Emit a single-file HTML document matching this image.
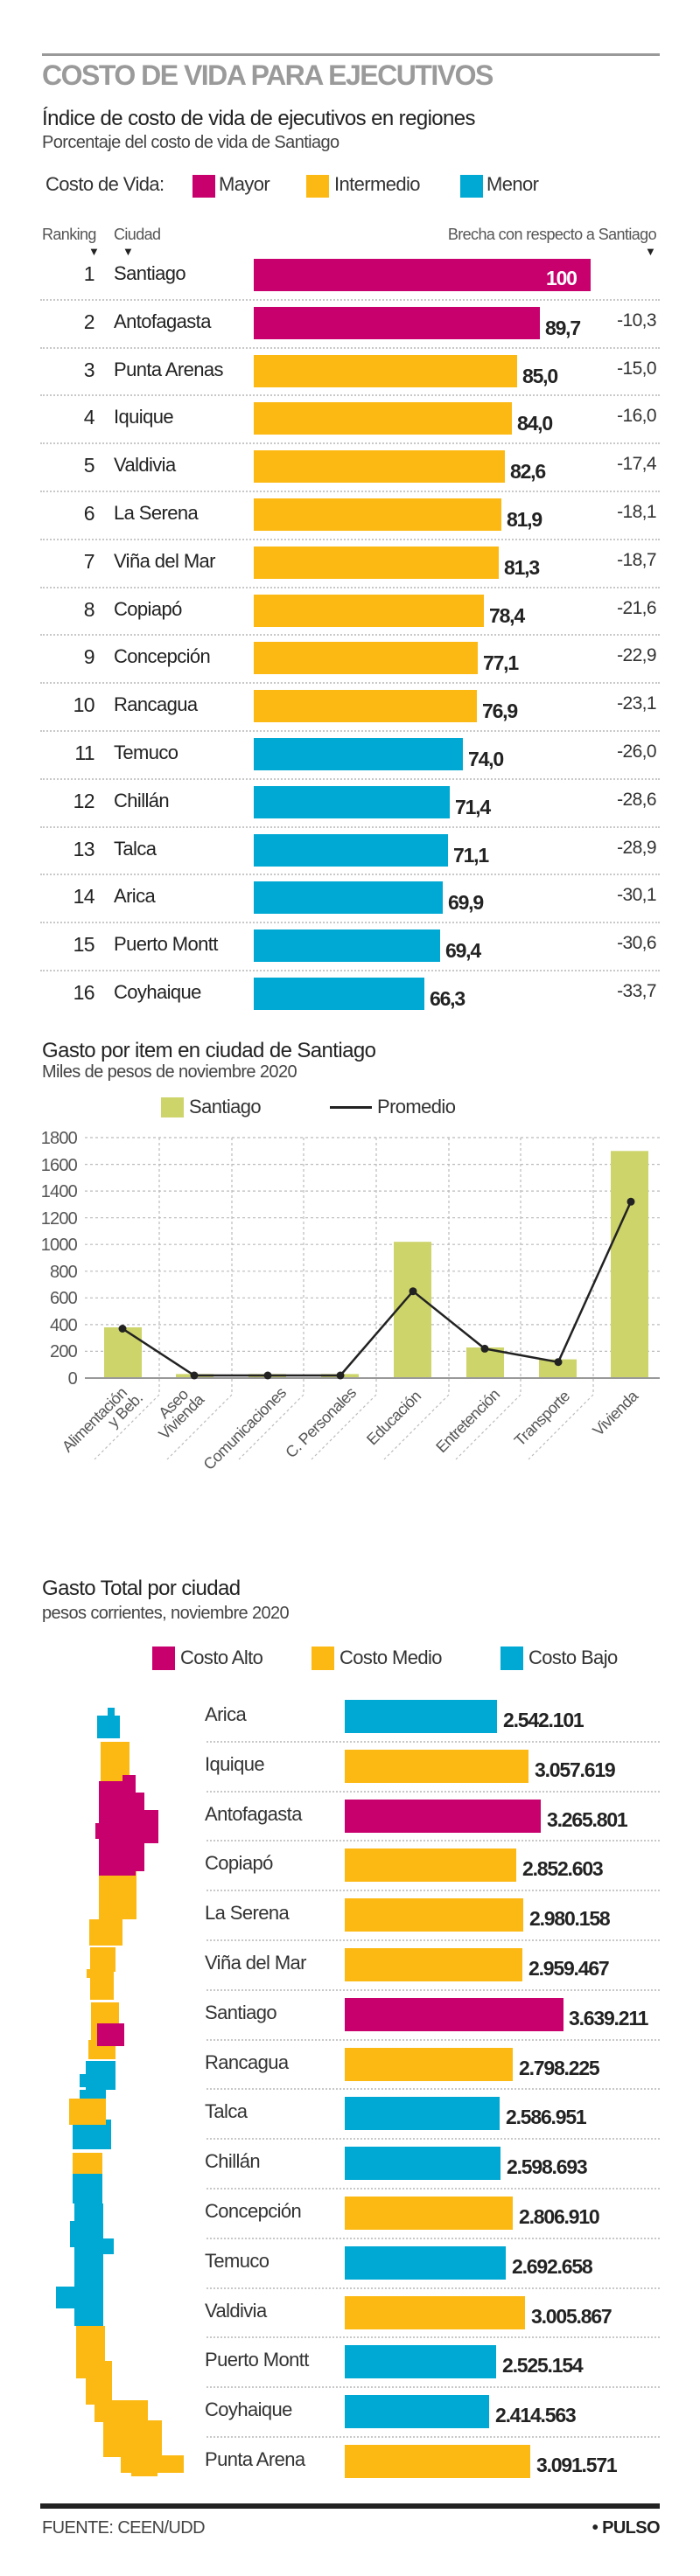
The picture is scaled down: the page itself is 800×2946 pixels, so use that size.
<!DOCTYPE html>
<html><head><meta charset="utf-8"><style>
*{margin:0;padding:0;box-sizing:border-box}
body{width:800px;height:2946px;background:#fff;position:relative;font-family:"Liberation Sans Narrow","Liberation Sans",sans-serif;color:#222;overflow:hidden;letter-spacing:-0.6px}
.a{position:absolute;white-space:nowrap}
.bar{position:absolute}
.m{background:#c8006e}.y{background:#fdb913}.b{background:#00a9d4}
.dot{position:absolute;height:0;border-top:2px dotted #c8c8c8}
.rk{position:absolute;width:60px;text-align:right;font-size:23px;left:48px}
.ct{position:absolute;left:130px;font-size:22px}
.v{position:absolute;font-size:23px;font-weight:bold;color:#222;letter-spacing:-1.2px}
.g{position:absolute;right:50px;font-size:21px;color:#333}
.c2{position:absolute;left:234px;font-size:22px;color:#333}
</style></head><body>
<div class="a" style="left:48px;top:61px;width:706px;border-top:3px solid #999"></div>
<div class="a" style="left:48px;top:68px;font-size:32px;font-weight:bold;color:#9a9a9a;letter-spacing:-1.5px">COSTO DE VIDA PARA EJECUTIVOS</div>
<div class="a" style="left:48px;top:122px;font-size:24px;color:#222">Índice de costo de vida de ejecutivos en regiones</div>
<div class="a" style="left:48px;top:152px;font-size:20px;color:#444">Porcentaje del costo de vida de Santiago</div>
<div class="a" style="left:52px;top:198px;font-size:22px;color:#333">Costo de Vida:</div>
<div class="bar m" style="left:220px;top:200px;width:26px;height:26px"></div><div class="a" style="left:250px;top:198px;font-size:22px;color:#333">Mayor</div>
<div class="bar y" style="left:350px;top:200px;width:26px;height:26px"></div><div class="a" style="left:382px;top:198px;font-size:22px;color:#333">Intermedio</div>
<div class="bar b" style="left:526px;top:200px;width:26px;height:26px"></div><div class="a" style="left:556px;top:198px;font-size:22px;color:#333">Menor</div>
<div class="a" style="left:48px;top:258px;font-size:18px;color:#555">Ranking</div>
<div class="a" style="left:130px;top:258px;font-size:18px;color:#555">Ciudad</div>
<div class="a" style="right:50px;top:258px;font-size:18px;color:#555">Brecha con respecto a Santiago</div>
<div class="a" style="left:101px;top:280px;font-size:13px">▼</div>
<div class="a" style="left:140px;top:280px;font-size:13px">▼</div>
<div class="a" style="left:737px;top:280px;font-size:13px">▼</div>

<div class="rk" style="top:300px">1</div><div class="ct" style="top:300px">Santiago</div><div class="bar m" style="left:290px;top:296px;width:385px;height:37px"></div><div class="v" style="left:624px;top:305px;color:#fff">100</div>
<div class="dot" style="left:46px;top:342px;width:708px"></div>
<div class="rk" style="top:355px">2</div><div class="ct" style="top:355px">Antofagasta</div><div class="bar m" style="left:290px;top:351px;width:327px;height:37px"></div><div class="v" style="left:623px;top:362px">89,7</div><div class="g" style="top:355px">-10,3</div>
<div class="dot" style="left:46px;top:397px;width:708px"></div>
<div class="rk" style="top:410px">3</div><div class="ct" style="top:410px">Punta Arenas</div><div class="bar y" style="left:290px;top:406px;width:301px;height:37px"></div><div class="v" style="left:597px;top:417px">85,0</div><div class="g" style="top:410px">-15,0</div>
<div class="dot" style="left:46px;top:451px;width:708px"></div>
<div class="rk" style="top:464px">4</div><div class="ct" style="top:464px">Iquique</div><div class="bar y" style="left:290px;top:460px;width:295px;height:37px"></div><div class="v" style="left:591px;top:471px">84,0</div><div class="g" style="top:464px">-16,0</div>
<div class="dot" style="left:46px;top:506px;width:708px"></div>
<div class="rk" style="top:519px">5</div><div class="ct" style="top:519px">Valdivia</div><div class="bar y" style="left:290px;top:515px;width:287px;height:37px"></div><div class="v" style="left:583px;top:526px">82,6</div><div class="g" style="top:519px">-17,4</div>
<div class="dot" style="left:46px;top:561px;width:708px"></div>
<div class="rk" style="top:574px">6</div><div class="ct" style="top:574px">La Serena</div><div class="bar y" style="left:290px;top:570px;width:283px;height:37px"></div><div class="v" style="left:579px;top:581px">81,9</div><div class="g" style="top:574px">-18,1</div>
<div class="dot" style="left:46px;top:616px;width:708px"></div>
<div class="rk" style="top:629px">7</div><div class="ct" style="top:629px">Viña del Mar</div><div class="bar y" style="left:290px;top:625px;width:280px;height:37px"></div><div class="v" style="left:576px;top:636px">81,3</div><div class="g" style="top:629px">-18,7</div>
<div class="dot" style="left:46px;top:671px;width:708px"></div>
<div class="rk" style="top:684px">8</div><div class="ct" style="top:684px">Copiapó</div><div class="bar y" style="left:290px;top:680px;width:263px;height:37px"></div><div class="v" style="left:559px;top:691px">78,4</div><div class="g" style="top:684px">-21,6</div>
<div class="dot" style="left:46px;top:725px;width:708px"></div>
<div class="rk" style="top:738px">9</div><div class="ct" style="top:738px">Concepción</div><div class="bar y" style="left:290px;top:734px;width:256px;height:37px"></div><div class="v" style="left:552px;top:745px">77,1</div><div class="g" style="top:738px">-22,9</div>
<div class="dot" style="left:46px;top:780px;width:708px"></div>
<div class="rk" style="top:793px">10</div><div class="ct" style="top:793px">Rancagua</div><div class="bar y" style="left:290px;top:789px;width:255px;height:37px"></div><div class="v" style="left:551px;top:800px">76,9</div><div class="g" style="top:793px">-23,1</div>
<div class="dot" style="left:46px;top:835px;width:708px"></div>
<div class="rk" style="top:848px">11</div><div class="ct" style="top:848px">Temuco</div><div class="bar b" style="left:290px;top:844px;width:239px;height:37px"></div><div class="v" style="left:535px;top:855px">74,0</div><div class="g" style="top:848px">-26,0</div>
<div class="dot" style="left:46px;top:890px;width:708px"></div>
<div class="rk" style="top:903px">12</div><div class="ct" style="top:903px">Chillán</div><div class="bar b" style="left:290px;top:899px;width:224px;height:37px"></div><div class="v" style="left:520px;top:910px">71,4</div><div class="g" style="top:903px">-28,6</div>
<div class="dot" style="left:46px;top:945px;width:708px"></div>
<div class="rk" style="top:958px">13</div><div class="ct" style="top:958px">Talca</div><div class="bar b" style="left:290px;top:954px;width:222px;height:37px"></div><div class="v" style="left:518px;top:965px">71,1</div><div class="g" style="top:958px">-28,9</div>
<div class="dot" style="left:46px;top:999px;width:708px"></div>
<div class="rk" style="top:1012px">14</div><div class="ct" style="top:1012px">Arica</div><div class="bar b" style="left:290px;top:1008px;width:216px;height:37px"></div><div class="v" style="left:512px;top:1019px">69,9</div><div class="g" style="top:1012px">-30,1</div>
<div class="dot" style="left:46px;top:1054px;width:708px"></div>
<div class="rk" style="top:1067px">15</div><div class="ct" style="top:1067px">Puerto Montt</div><div class="bar b" style="left:290px;top:1063px;width:213px;height:37px"></div><div class="v" style="left:509px;top:1074px">69,4</div><div class="g" style="top:1067px">-30,6</div>
<div class="dot" style="left:46px;top:1109px;width:708px"></div>
<div class="rk" style="top:1122px">16</div><div class="ct" style="top:1122px">Coyhaique</div><div class="bar b" style="left:290px;top:1118px;width:195px;height:37px"></div><div class="v" style="left:491px;top:1129px">66,3</div><div class="g" style="top:1122px">-33,7</div>

<div class="a" style="left:48px;top:1188px;font-size:24px;color:#222">Gasto por item en ciudad de Santiago</div>
<div class="a" style="left:48px;top:1215px;font-size:20px;color:#444">Miles de pesos de noviembre 2020</div>
<div class="bar" style="left:184px;top:1255px;width:26px;height:23px;background:#cdd46a"></div>
<div class="a" style="left:216px;top:1253px;font-size:22px;color:#333">Santiago</div>
<div class="a" style="left:377px;top:1265px;width:48px;border-top:3px solid #222"></div>
<div class="a" style="left:431px;top:1253px;font-size:22px;color:#333">Promedio</div>
<svg class="a" style="left:0;top:0" width="800" height="2946" viewBox="0 0 800 2946">
<g stroke="#bbb" stroke-width="1.2" stroke-dasharray="3,3" fill="none">
<line x1="97" y1="1301" x2="754" y2="1301"/><line x1="97" y1="1331.6" x2="754" y2="1331.6"/><line x1="97" y1="1362.1" x2="754" y2="1362.1"/><line x1="97" y1="1392.7" x2="754" y2="1392.7"/><line x1="97" y1="1423.2" x2="754" y2="1423.2"/><line x1="97" y1="1453.8" x2="754" y2="1453.8"/><line x1="97" y1="1484.3" x2="754" y2="1484.3"/><line x1="97" y1="1514.9" x2="754" y2="1514.9"/><line x1="97" y1="1545.4" x2="754" y2="1545.4"/>
<path d="M182 1301V1595L108 1669M265 1301V1595L191 1669M347 1301V1595L273 1669M430 1301V1595L356 1669M513 1301V1595L439 1669M595 1301V1595L521 1669M678 1301V1595L604 1669"/>
</g>
<g fill="#cdd46a">
<rect x="119" y="1518" width="43" height="58"/><rect x="201" y="1571.4" width="43" height="4.6"/><rect x="284" y="1571.4" width="43" height="4.6"/><rect x="367" y="1571.4" width="43" height="4.6"/><rect x="450" y="1420.2" width="43" height="155.8"/><rect x="533" y="1541" width="43" height="35"/><rect x="616" y="1554.6" width="43" height="21.4"/><rect x="698" y="1316.3" width="43" height="259.7"/>
</g>
<line x1="97" y1="1576" x2="754" y2="1576" stroke="#999" stroke-width="2"/>
<polyline fill="none" stroke="#222" stroke-width="2.5" points="140,1519.5 222,1573 306,1573 389,1573 472,1476.7 554,1542.4 638,1557.7 721,1374.3"/>
<g fill="#222"><circle cx="140" cy="1519.5" r="4.5"/><circle cx="222" cy="1573" r="4.5"/><circle cx="306" cy="1573" r="4.5"/><circle cx="389" cy="1573" r="4.5"/><circle cx="472" cy="1476.7" r="4.5"/><circle cx="554" cy="1542.4" r="4.5"/><circle cx="638" cy="1557.7" r="4.5"/><circle cx="721" cy="1374.3" r="4.5"/></g>
<g font-family="Liberation Sans Narrow, Liberation Sans, sans-serif" font-size="20" fill="#555" text-anchor="end" letter-spacing="-0.8">
<text x="88" y="1308">1800</text><text x="88" y="1339">1600</text><text x="88" y="1369">1400</text><text x="88" y="1400">1200</text><text x="88" y="1430">1000</text><text x="88" y="1461">800</text><text x="88" y="1491">600</text><text x="88" y="1522">400</text><text x="88" y="1552">200</text><text x="88" y="1583">0</text>
</g>
<g font-family="Liberation Sans Narrow, Liberation Sans, sans-serif" font-size="18" fill="#555" text-anchor="end" letter-spacing="-0.6">
<text transform="translate(146,1594) rotate(-45)">Alimentación</text><text transform="translate(164,1600) rotate(-45)">y Beb.</text>
<text transform="translate(216,1596) rotate(-45)">Aseo</text><text transform="translate(234,1602) rotate(-45)">Vivienda</text>
<text transform="translate(328,1594) rotate(-45)">Comunicaciones</text>
<text transform="translate(408,1594) rotate(-45)">C. Personales</text>
<text transform="translate(482,1598) rotate(-45)">Educación</text>
<text transform="translate(572,1596) rotate(-45)">Entretención</text>
<text transform="translate(652,1598) rotate(-45)">Transporte</text>
<text transform="translate(730,1598) rotate(-45)">Vivienda</text>
</g>
<g fill="#00a9d4">
<rect x="111" y="1962" width="26" height="26"/><rect x="123" y="1953" width="8" height="10"/>
<rect x="98" y="2357" width="34" height="33"/><rect x="91" y="2372" width="10" height="15"/><rect x="91" y="2390" width="30" height="20"/>
<rect x="83" y="2424" width="44" height="34"/><rect x="83" y="2486" width="34" height="34"/>
<rect x="85" y="2520" width="33" height="140"/><rect x="64" y="2615" width="22" height="25"/><rect x="80" y="2540" width="10" height="30"/><rect x="118" y="2560" width="12" height="18"/>
</g>
<g fill="#fdb913">
<rect x="115" y="1992" width="33" height="48"/>
<rect x="113" y="2135" width="43" height="60"/><rect x="102" y="2195" width="38" height="30"/>
<rect x="103" y="2227" width="29" height="28"/><rect x="99" y="2252" width="24" height="10"/><rect x="103" y="2255" width="27" height="32"/>
<rect x="104" y="2290" width="32" height="24"/><rect x="104" y="2314" width="7" height="20"/><rect x="101" y="2333" width="31" height="22"/>
<rect x="79" y="2400" width="42" height="30"/><rect x="83" y="2462" width="34" height="24"/>
<rect x="87" y="2660" width="33" height="60"/><rect x="98" y="2700" width="30" height="50"/><rect x="108" y="2745" width="61" height="25"/><rect x="118" y="2768" width="67" height="42"/><rect x="138" y="2808" width="72" height="20"/><rect x="150" y="2826" width="30" height="6"/>
</g>
<g fill="#c8006e">
<rect x="113" y="2037" width="42" height="108"/><rect x="140" y="2030" width="15" height="10"/><rect x="150" y="2050" width="15" height="90"/><rect x="164" y="2070" width="17" height="38"/><rect x="109" y="2085" width="6" height="18"/>
<rect x="111" y="2314" width="31" height="26"/>
</g>
</svg>

<div class="a" style="left:48px;top:1803px;font-size:24px;color:#222">Gasto Total por ciudad</div>
<div class="a" style="left:48px;top:1834px;font-size:20px;color:#444">pesos corrientes, noviembre 2020</div>
<div class="bar m" style="left:174px;top:1883px;width:26px;height:27px"></div><div class="a" style="left:206px;top:1883px;font-size:22px;color:#333">Costo Alto</div>
<div class="bar y" style="left:356px;top:1883px;width:26px;height:27px"></div><div class="a" style="left:388px;top:1883px;font-size:22px;color:#333">Costo Medio</div>
<div class="bar b" style="left:572px;top:1883px;width:26px;height:27px"></div><div class="a" style="left:604px;top:1883px;font-size:22px;color:#333">Costo Bajo</div>

<div class="c2" style="top:1948px">Arica</div><div class="bar b" style="left:394px;top:1944px;width:174px;height:38px"></div><div class="v" style="left:575px;top:1954px">2.542.101</div>
<div class="dot" style="left:236px;top:1991px;width:518px"></div>
<div class="c2" style="top:2005px">Iquique</div><div class="bar y" style="left:394px;top:2001px;width:210px;height:38px"></div><div class="v" style="left:611px;top:2011px">3.057.619</div>
<div class="dot" style="left:236px;top:2048px;width:518px"></div>
<div class="c2" style="top:2062px">Antofagasta</div><div class="bar m" style="left:394px;top:2058px;width:224px;height:38px"></div><div class="v" style="left:625px;top:2068px">3.265.801</div>
<div class="dot" style="left:236px;top:2104px;width:518px"></div>
<div class="c2" style="top:2118px">Copiapó</div><div class="bar y" style="left:394px;top:2114px;width:196px;height:38px"></div><div class="v" style="left:597px;top:2124px">2.852.603</div>
<div class="dot" style="left:236px;top:2161px;width:518px"></div>
<div class="c2" style="top:2175px">La Serena</div><div class="bar y" style="left:394px;top:2171px;width:204px;height:38px"></div><div class="v" style="left:605px;top:2181px">2.980.158</div>
<div class="dot" style="left:236px;top:2218px;width:518px"></div>
<div class="c2" style="top:2232px">Viña del Mar</div><div class="bar y" style="left:394px;top:2228px;width:203px;height:38px"></div><div class="v" style="left:604px;top:2238px">2.959.467</div>
<div class="dot" style="left:236px;top:2275px;width:518px"></div>
<div class="c2" style="top:2289px">Santiago</div><div class="bar m" style="left:394px;top:2285px;width:250px;height:38px"></div><div class="v" style="left:650px;top:2295px">3.639.211</div>
<div class="dot" style="left:236px;top:2332px;width:518px"></div>
<div class="c2" style="top:2346px">Rancagua</div><div class="bar y" style="left:394px;top:2342px;width:192px;height:38px"></div><div class="v" style="left:593px;top:2352px">2.798.225</div>
<div class="dot" style="left:236px;top:2388px;width:518px"></div>
<div class="c2" style="top:2402px">Talca</div><div class="bar b" style="left:394px;top:2398px;width:177px;height:38px"></div><div class="v" style="left:578px;top:2408px">2.586.951</div>
<div class="dot" style="left:236px;top:2445px;width:518px"></div>
<div class="c2" style="top:2459px">Chillán</div><div class="bar b" style="left:394px;top:2455px;width:178px;height:38px"></div><div class="v" style="left:579px;top:2465px">2.598.693</div>
<div class="dot" style="left:236px;top:2502px;width:518px"></div>
<div class="c2" style="top:2516px">Concepción</div><div class="bar y" style="left:394px;top:2512px;width:192px;height:38px"></div><div class="v" style="left:593px;top:2522px">2.806.910</div>
<div class="dot" style="left:236px;top:2559px;width:518px"></div>
<div class="c2" style="top:2573px">Temuco</div><div class="bar b" style="left:394px;top:2569px;width:184px;height:38px"></div><div class="v" style="left:585px;top:2579px">2.692.658</div>
<div class="dot" style="left:236px;top:2616px;width:518px"></div>
<div class="c2" style="top:2630px">Valdivia</div><div class="bar y" style="left:394px;top:2626px;width:206px;height:38px"></div><div class="v" style="left:607px;top:2636px">3.005.867</div>
<div class="dot" style="left:236px;top:2672px;width:518px"></div>
<div class="c2" style="top:2686px">Puerto Montt</div><div class="bar b" style="left:394px;top:2682px;width:173px;height:38px"></div><div class="v" style="left:574px;top:2692px">2.525.154</div>
<div class="dot" style="left:236px;top:2729px;width:518px"></div>
<div class="c2" style="top:2743px">Coyhaique</div><div class="bar b" style="left:394px;top:2739px;width:165px;height:38px"></div><div class="v" style="left:566px;top:2749px">2.414.563</div>
<div class="dot" style="left:236px;top:2786px;width:518px"></div>
<div class="c2" style="top:2800px">Punta Arena</div><div class="bar y" style="left:394px;top:2796px;width:212px;height:38px"></div><div class="v" style="left:613px;top:2806px">3.091.571</div>

<div class="a" style="left:46px;top:2863px;width:708px;border-top:6px solid #222"></div>
<div class="a" style="left:48px;top:2880px;font-size:20px;color:#444">FUENTE: CEEN/UDD</div>
<div class="a" style="right:46px;top:2880px;font-size:20px;color:#222;font-weight:bold">• PULSO</div>
</body></html>
